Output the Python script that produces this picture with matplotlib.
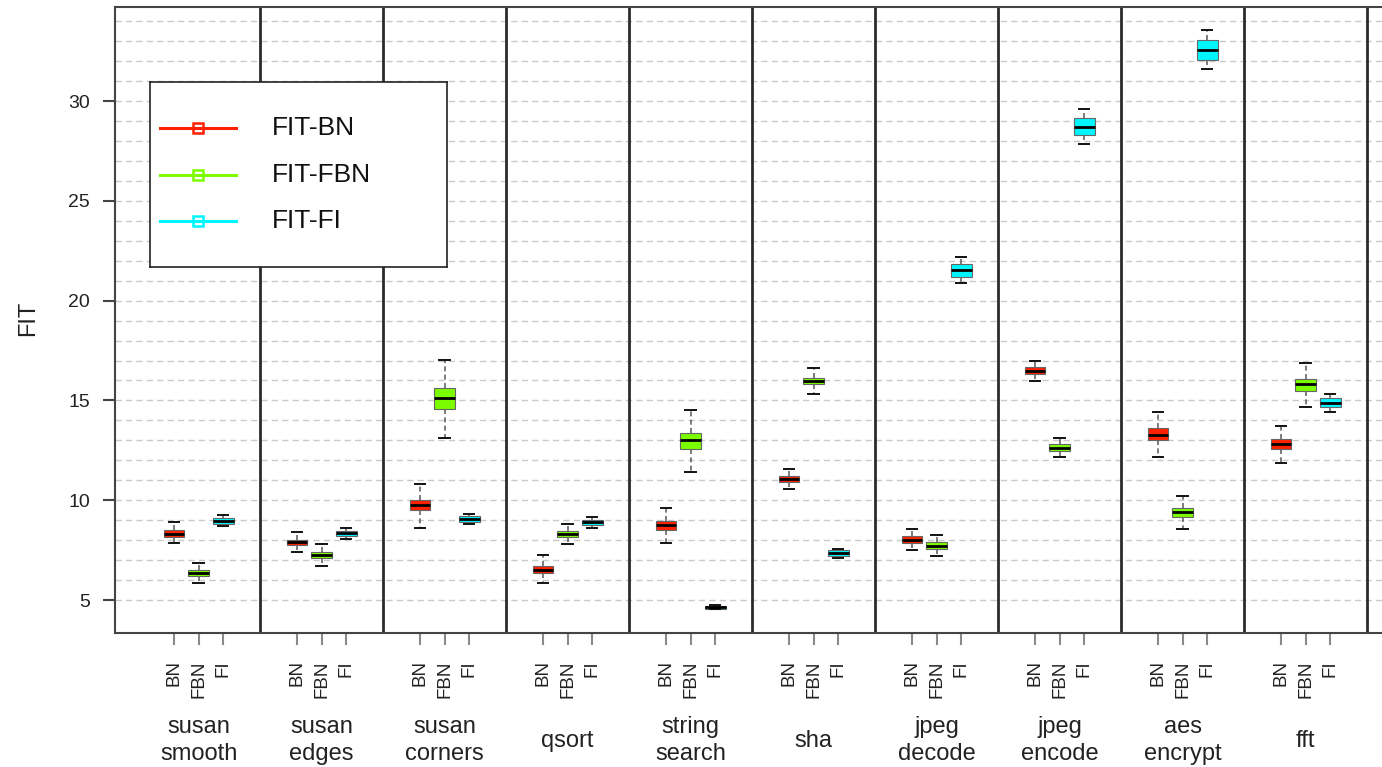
import numpy as np
import matplotlib
matplotlib.use("Agg")
import matplotlib.pyplot as plt
import matplotlib.transforms as mtransforms

plt.rcParams["font.family"] = ["Liberation Sans", "DejaVu Sans"]

# benchmarks (one group of three boxes each)
groups = ["susan\nsmooth", "susan\nedges", "susan\ncorners", "qsort", "string\nsearch",
          "sha", "jpeg\ndecode", "jpeg\nencode", "aes\nencrypt", "fft"]
methods = ["BN", "FBN", "FI"]
legend_labels = ["FIT-BN", "FIT-FBN", "FIT-FI"]
colors = ["#ff2000", "#7cfc00", "#00f5ff"]

# box statistics
bn_med = [8.33, 7.90, 9.75, 6.53, 8.75, 11.08, 8.03, 16.50, 13.29, 12.82]
bn_q1 = [8.15, 7.77, 9.50, 6.37, 8.50, 10.92, 7.85, 16.32, 13.00, 12.57]
bn_q3 = [8.50, 8.03, 10.00, 6.72, 8.95, 11.23, 8.20, 16.68, 13.60, 13.07]
bn_lo = [7.85, 7.42, 8.63, 5.83, 7.88, 10.57, 7.50, 15.95, 12.17, 11.87]
bn_hi = [8.90, 8.42, 10.83, 7.25, 9.60, 11.58, 8.58, 17.00, 14.42, 13.74]

fbn_med = [6.37, 7.27, 15.12, 8.32, 13.00, 15.98, 7.73, 12.64, 9.39, 15.80]
fbn_q1 = [6.22, 7.13, 14.57, 8.17, 12.57, 15.82, 7.57, 12.47, 9.17, 15.47]
fbn_q3 = [6.50, 7.40, 15.60, 8.45, 13.37, 16.12, 7.90, 12.82, 9.60, 16.05]
fbn_lo = [5.87, 6.72, 13.12, 7.80, 11.44, 15.32, 7.22, 12.15, 8.58, 14.65]
fbn_hi = [6.87, 7.82, 17.05, 8.82, 14.52, 16.65, 8.25, 13.14, 10.20, 16.86]

fi_med = [8.97, 8.35, 9.07, 8.90, 4.63, 7.35, 21.55, 28.70, 32.58, 14.88]
fi_q1 = [8.82, 8.22, 8.92, 8.75, 4.57, 7.20, 21.20, 28.28, 32.05, 14.65]
fi_q3 = [9.12, 8.48, 9.22, 9.03, 4.70, 7.50, 21.86, 29.13, 33.05, 15.10]
fi_lo = [8.70, 8.08, 8.80, 8.63, 4.53, 7.13, 20.90, 27.85, 31.60, 14.40]
fi_hi = [9.25, 8.60, 9.33, 9.17, 4.73, 7.58, 22.20, 29.58, 33.55, 15.30]

series = [
    (bn_med, bn_q1, bn_q3, bn_lo, bn_hi),
    (fbn_med, fbn_q1, fbn_q3, fbn_lo, fbn_hi),
    (fi_med, fi_q1, fi_q3, fi_lo, fi_hi),
]

W, H = 1382, 767
fig = plt.figure(figsize=(W / 100, H / 100), dpi=100)
ax = fig.add_axes([115 / W, 1 - 633 / H, (1404 - 115) / W, 626 / H])
ax.set_xlim(-1.4, 51.0)
ax.set_ylim(3.35, 34.71)

# dashed horizontal guides and group separators
ax.hlines(np.arange(5, 35), -1.4, 51.0, colors="#cacaca", linestyles=(0, (4.5, 3)),
          lw=1.0, zorder=0)
for s in np.arange(4.5, 50, 5):
    ax.axvline(s, color="#2b2b2b", lw=2.0, zorder=1)

stats, positions, facecols, ticklabels = [], [], [], []
for g in range(len(groups)):
    for j, (med, q1, q3, lo, hi) in enumerate(series):
        stats.append(dict(med=med[g], q1=q1[g], q3=q3[g], whislo=lo[g], whishi=hi[g], fliers=[]))
        positions.append(5 * g + 1 + j)
        facecols.append(colors[j])
        ticklabels.append(methods[j])

bp = ax.bxp(stats, positions=positions, widths=0.84, patch_artist=True, showfliers=False,
            manage_ticks=False, capwidths=0.42,
            boxprops=dict(edgecolor="#666666", lw=0.8),
            whiskerprops=dict(color="#666666", lw=1.2, linestyle=(0, (3, 2))),
            capprops=dict(color="#111111", lw=1.4),
            medianprops=dict(color="black", lw=2.0))
for patch, c in zip(bp["boxes"], facecols):
    patch.set_facecolor(c)
    patch.set_zorder(3)
for key in ("medians", "whiskers", "caps"):
    for ln in bp[key]:
        ln.set_zorder(4)

ax.set_xticks(positions)
ax.set_xticklabels(ticklabels, rotation=90, fontsize=13.5, color="#222222", va="top")
ax.tick_params(axis="x", length=8.6, width=1.5, color="#8a8a8a", pad=11)
ax.set_yticks([5, 10, 15, 20, 25, 30])
ax.set_yticklabels(["5", "10", "15", "20", "25", "30"], fontsize=14, color="#222222")
ax.tick_params(axis="y", length=8.6, width=1.5, color="#444444", pad=9.5)

for side in ("left", "bottom", "top"):
    ax.spines[side].set_color("#444444")
    ax.spines[side].set_linewidth(1.5)
ax.spines["right"].set_visible(False)

# benchmark names under each group
trans = mtransforms.blended_transform_factory(ax.transData, ax.transAxes)
for g, name in enumerate(groups):
    ax.text(5 * g + 2, -0.172, name, transform=trans, ha="center", va="center",
            fontsize=17, color="#222222", linespacing=1.32)

fig.text(28 / W, 1 - 318 / H, "FIT", rotation=90, ha="center", va="center",
         fontsize=17, color="#222222")

# legend box drawn by hand
lax = fig.add_axes([150 / W, 1 - 267 / H, 297 / W, 185 / H])
lax.set_xlim(0, 297)
lax.set_ylim(185, 0)
lax.set_xticks([])
lax.set_yticks([])
for sp in lax.spines.values():
    sp.set_color("#222222")
    sp.set_linewidth(1.2)
for i, (lab, c) in enumerate(zip(legend_labels, colors)):
    y = 46 + 46.5 * i
    lax.plot([10, 86], [y, y], color=c, lw=2.2)
    lax.plot([48], [y], marker="s", ms=7, mfc="none", mec=c, mew=1.8)
    lax.text(122, y, lab, fontsize=19, va="center", ha="left", color="#111111")

fig.savefig("out.png", dpi=100)
